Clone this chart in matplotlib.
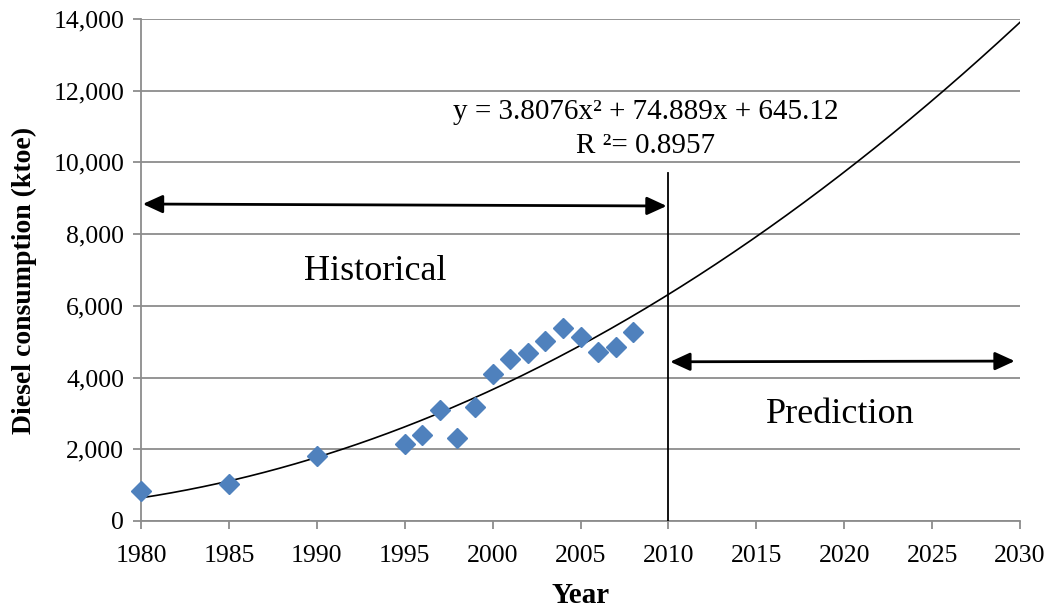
import matplotlib
matplotlib.use("Agg")
import matplotlib.pyplot as plt
import numpy as np
from matplotlib.ticker import FuncFormatter

plt.rcParams['font.family'] = ['Liberation Serif', 'DejaVu Serif']

years = [1980, 1985, 1990, 1995, 1996, 1997, 1998, 1999, 2000, 2001,
         2002, 2003, 2004, 2005, 2006, 2007, 2008]
consumption = [840, 1030, 1810, 2150, 2400, 3100, 2310, 3180, 4100, 4520,
               4680, 5020, 5380, 5130, 4710, 4850, 5270]
trend_coef = [3.8076, 74.889, 645.12]  # y = a x^2 + b x + c, x = year - 1980
trend_base_year = 1980
x_ticks = list(range(1980, 2031, 5))
y_ticks = list(range(0, 14001, 2000))

fig = plt.figure(figsize=(10.58, 6.07), dpi=100)
ax = fig.add_axes([0.1333, 0.1417, 0.8308, 0.827])

grid_c = '#8c8c8c'
ax.set_xlim(1980, 2030)
ax.set_ylim(0, 14000)
ax.set_xticks(x_ticks)
ax.set_yticks(y_ticks)
ax.yaxis.set_major_formatter(FuncFormatter(lambda v, p: f"{int(v):,}"))
ax.grid(axis='y', color=grid_c, linewidth=1.3)
ax.set_axisbelow(True)
for s in ['top', 'right']:
    ax.spines[s].set_visible(False)
for s in ['left', 'bottom']:
    ax.spines[s].set_color(grid_c)
    ax.spines[s].set_linewidth(1.3)
ax.tick_params(axis='both', colors=grid_c, labelcolor='black', labelsize=18.5,
               length=6, width=1.3, direction='out')
ax.tick_params(axis='x', pad=11)
ax.tick_params(axis='y', pad=6)

# trend line
tx = np.linspace(1980, 2030, 400)
tt = tx - trend_base_year
ty = np.polyval(trend_coef, tt)
ax.plot(tx, ty, color='black', linewidth=1.2, zorder=3)

# data points
ax.plot(years, consumption, linestyle='none', marker='D', markersize=10.5,
        color='#4F81BD', zorder=4, clip_on=False)

# 2010 divider
ax.plot([2010, 2010], [0, 9700], color='black', linewidth=1.3, zorder=5)

# arrows
arrow_kw = dict(arrowstyle='<|-|>,head_length=1.2,head_width=0.55',
                color='black', linewidth=2.0, shrinkA=0, shrinkB=0)
ax.annotate('', xy=(1980.1, 8840), xytext=(2009.9, 8785), arrowprops=arrow_kw)
ax.annotate('', xy=(2010.1, 4440), xytext=(2029.7, 4460), arrowprops=arrow_kw)

ax.text(1993.3, 6950, 'Historical', fontsize=26, ha='center', va='center')
ax.text(2019.8, 2980, 'Prediction', fontsize=26, ha='center', va='center')
ax.text(2008.7, 11400, 'y = 3.8076x² + 74.889x + 645.12', fontsize=21,
        ha='center', va='center')
ax.text(2008.7, 10460, 'R ²= 0.8957', fontsize=21, ha='center', va='center')

ax.set_xlabel('Year', fontsize=21, fontweight='bold', labelpad=11)
ax.set_ylabel('Diesel consumption (ktoe)', fontsize=20, fontweight='bold')
ax.yaxis.set_label_coords(-0.118, 0.48)

fig.savefig('out.png', dpi=100)
